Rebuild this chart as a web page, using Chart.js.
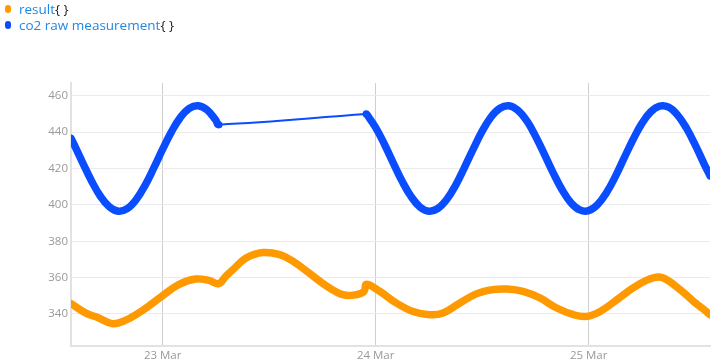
<!DOCTYPE html>
<html lang="en">
<head>
  <meta charset="utf-8">
  <title>co2 raw measurement</title>
  <script src="https://cdn.jsdelivr.net/npm/chart.js"></script>
  <style>
    body { margin: 0; background: #fff; font-family: 'Open Sans', sans-serif; }
    #wrap { position: relative; width: 718px; height: 364px; }
    #legend { position: absolute; left: 5px; top: 1px; font-size: 13.5px; line-height: 16px; }
    .item { display: flex; align-items: center; height: 16px; white-space: pre; }
    .dot { width: 6px; height: 8px; border-radius: 3px; margin-right: 8px; }
    .name { color: #1e88e5; }
    .br { color: #222; }
  </style>
</head>
<body>
  <div id="wrap">
    <canvas id="chart" width="718" height="364"></canvas>
    <div id="legend"></div>
  </div>
  <script>
    // x values are hours counted from 23 Mar 00:00
    const dayTicks = [0, 24, 48];
    const dayLabels = ['23 Mar', '24 Mar', '25 Mar'];
    const valueTicks = [340, 360, 380, 400, 420, 440, 460];

    const resultHours = [-10.33, -8.7, -7.2, -5.7, -4.2, -2.7, -1.2, 0, 1.8, 3.7, 5.2, 6.32, 7.1, 7.9, 9.4, 11.3, 13.2, 14.7, 16.5, 18.4, 20.3, 21.8, 22.7, 22.95, 24.45, 26.3, 28.2, 30.1, 31.6, 33.5, 35.4, 37.2, 38.8, 40.6, 42.5, 44.4, 46.3, 47.8, 49.3, 51.2, 53.0, 54.5, 55.9, 56.8, 58.3, 59.8, 60.9, 61.67];
    const resultValues = [345.7, 340.6, 337.8, 334.7, 336.5, 340.6, 345.7, 350.1, 356.1, 359.2, 358.5, 356.7, 360.7, 364.3, 370.8, 373.8, 372.6, 368.9, 362.5, 355.6, 350.6, 350.6, 352.4, 356.3, 352.5, 346.1, 341.4, 339.6, 340.6, 346.1, 351.2, 353.4, 353.7, 352.4, 348.8, 343.3, 339.6, 338.7, 341.4, 347.9, 354.3, 358.5, 360.3, 358.8, 353.4, 347.0, 342.8, 339.6];

    const co2Hours = [-10.33, -10, -9, -8, -7, -6, -5, -4, -3, -2, -1, 0, 1, 2, 3, 4, 5, 6, 6.32,
      22.95, 23, 24, 25, 26, 27, 28, 29, 30, 31, 32, 33, 34, 35, 36, 37, 38, 39, 40, 41, 42, 43, 44, 45, 46, 47, 48, 49, 50, 51, 52, 53, 54, 55, 56, 57, 58, 59, 60, 61, 61.67];
    const co2Values = [436.6, 433.4, 423.0, 413.0, 404.6, 398.9, 396.5, 397.9, 402.8, 410.6, 420.3, 430.6, 440.3, 448.1, 453.1, 454.5, 452.2, 446.5, 444.1,
      449.9, 449.7, 442.5, 433.2, 422.8, 412.8, 404.5, 398.8, 396.5, 398.0, 402.9, 410.7, 420.5, 430.8, 440.5, 448.3, 453.1, 454.5, 452.1, 446.4, 437.9, 427.9, 417.6, 408.3, 401.2, 397.2, 396.8, 400.1, 406.6, 415.5, 425.8, 435.9, 444.8, 451.2, 454.3, 453.7, 449.5, 442.3, 433.0, 422.6, 416.0];

    const series = [
      { name: 'result', color: '#ff9900', hours: resultHours, values: resultValues },
      { name: 'co2 raw measurement', color: '#0a4dff', hours: co2Hours, values: co2Values }
    ];

    const legend = document.getElementById('legend');
    series.forEach(s => {
      const row = document.createElement('div');
      row.className = 'item';
      row.innerHTML = '<span class="dot" style="background:' + s.color + '"></span>' +
        '<span class="name">' + s.name + '</span><span class="br">{ }</span>';
      legend.appendChild(row);
    });

    // thin line across gaps in the data, thick otherwise
    const gapWidth = ctx => (ctx.p1.parsed.x - ctx.p0.parsed.x > 3 ? 2 : 7.5);

    new Chart(document.getElementById('chart'), {
      type: 'line',
      data: {
        datasets: series.map(s => ({
          label: s.name,
          data: s.hours.map((h, i) => ({ x: h, y: s.values[i] })),
          borderColor: s.color,
          backgroundColor: s.color,
          borderWidth: 7.5,
          borderCapStyle: 'round',
          borderJoinStyle: 'round',
          pointRadius: 0,
          tension: 0.4,
          segment: { borderWidth: gapWidth }
        }))
      },
      options: {
        responsive: false,
        animation: false,
        layout: { padding: { top: 83, right: 8, left: 0, bottom: 0 } },
        plugins: { legend: { display: false }, tooltip: { enabled: false } },
        scales: {
          x: {
            type: 'linear', min: -10.33, max: 61.67,
            afterBuildTicks: s => { s.ticks = dayTicks.map(v => ({ value: v })); },
            afterFit: s => { s.height = 18; },
            ticks: {
              callback: v => dayLabels[dayTicks.indexOf(v)],
              color: '#999', font: { family: 'Open Sans', size: 11.5 }, maxRotation: 0, padding: 3
            },
            grid: { color: '#cfcfcf', drawTicks: false },
            border: { color: '#e2e2e2', width: 2 }
          },
          y: {
            min: 322.4, max: 467,
            afterBuildTicks: s => { s.ticks = valueTicks.map(v => ({ value: v })); },
            afterFit: s => { s.width = 71; },
            ticks: { color: '#999', font: { family: 'Open Sans', size: 11.5 }, padding: 3 },
            grid: { color: '#ebebeb', drawTicks: false },
            border: { color: '#e2e2e2', width: 2 }
          }
        }
      }
    });
  </script>
</body>
</html>
